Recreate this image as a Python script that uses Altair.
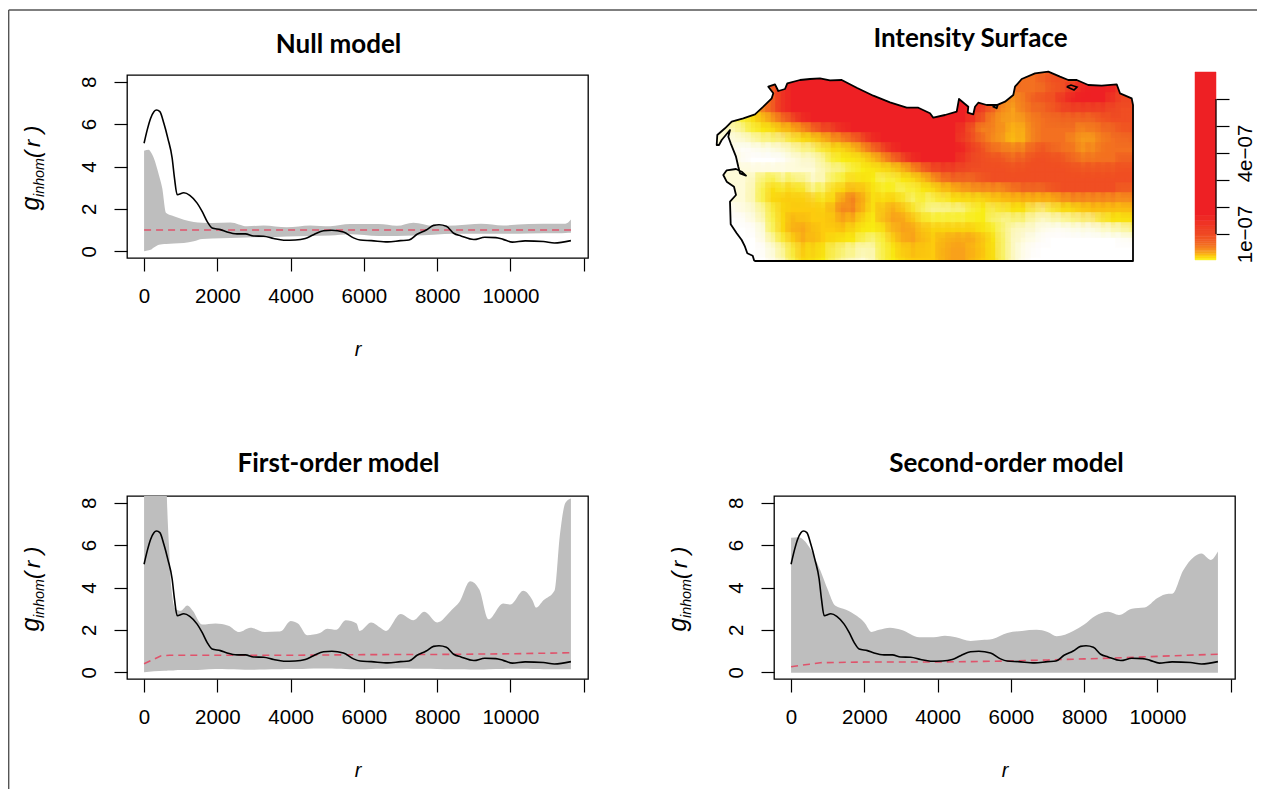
import altair as alt

FONT = "Liberation Sans"
GREY = "#BEBEBE"
PINK = "#DF536B"

# pair correlation (same observed curve in all three panels)
obs_r = [0,86,177,268,340,431,540,649,767,830,903,1085,1248,1448,1584,1720,1857,2084,2265,2538,2765,2992,3264,3536,3809,4127,4399,4626,4898,5125,5443,5716,5897,6200,6650,7000,7230,7450,7700,7900,8050,8250,8450,8650,9000,9300,9600,9800,10050,10400,10900,11200,11650]
obs_g = [5.10,5.73,6.27,6.59,6.67,6.59,6.04,5.33,4.39,3.45,2.67,2.76,2.64,2.27,1.88,1.41,1.10,1.02,.91,.82,.82,.72,.71,.60,.52,.53,.60,.78,.97,.99,.91,.63,.53,.50,.44,.50,.53,.80,1.0,1.22,1.25,1.18,.85,.72,.55,.66,.64,.56,.43,.49,.46,.39,.50]

null_r = [0,131,177,268,404,495,604,812,1085,1357,1584,1857,2356,2810,3264,3900,4535,5080,5625,6400,6900,7350,7900,8500,9200,9800,10500,11300,11500,11650]
null_hi = [4.74,4.79,4.7,4.39,3.6,2.98,1.8,1.65,1.49,1.38,1.35,1.33,1.36,1.18,1.22,1.13,1.22,1.18,1.28,1.28,1.2,1.35,1.2,1.22,1.3,1.22,1.28,1.3,1.3,1.5]
null_lo = [0,.05,.07,.18,.31,.33,.34,.37,.39,.47,.58,.6,.63,.65,.66,.7,.72,.74,.8,.72,.72,.74,.78,.82,.82,.82,.84,.85,.86,.87]
null_th_r = [0,11650]
null_th_g = [1,1]

first_r = [0,550,620,680,744,850,1000,1180,1330,1580,1950,2300,2600,2900,3300,3650,3750,4000,4200,4450,4800,5000,5250,5500,5800,5880,6200,6450,6600,7000,7350,7650,8000,8400,8600,8900,9150,9400,9800,10000,10350,10600,10700,10900,11200,11350,11500,11650]
first_hi = [14,14,8.4,6,4.0,3.0,2.9,3.15,2.9,2.25,2.3,2.2,1.9,2.1,1.9,1.92,1.95,2.42,2.3,1.75,1.85,2.05,2.0,2.45,2.3,1.95,2.35,2.1,1.95,2.75,2.45,2.85,2.35,2.95,3.3,4.3,3.9,2.5,3.25,3.2,3.85,3.4,3.05,3.4,3.85,6.5,8,8.2]
first_lo = [0,.07,.07,.08,.08,.09,.1,.11,.11,.12,.15,.14,.13,.12,.13,.14,.14,.15,.15,.16,.17,.17,.16,.15,.14,.14,.15,.16,.16,.17,.16,.16,.15,.14,.14,.13,.13,.14,.15,.16,.16,.15,.15,.14,.14,.14,.14,.14]
first_th_r = [0,250,450,700,2000,4000,6000,8000,10000,11650]
first_th_g = [.4,.6,.77,.8,.8,.8,.83,.84,.87,.92]

second_r = [0,200,500,800,1000,1200,1500,1800,2000,2200,2400,2700,3000,3500,3900,4200,4500,4900,5200,5500,5900,6300,6700,7000,7250,7700,8000,8300,8650,8950,9300,9650,10000,10300,10400,10700,11000,11200,11450,11650]
second_hi = [6.35,6.37,5.9,4.8,3.9,3.15,2.95,2.65,2.35,1.9,2.0,2.1,2.0,1.65,1.65,1.72,1.65,1.48,1.52,1.57,1.85,1.95,2.0,1.9,1.7,1.95,2.25,2.65,2.85,2.7,3.0,3.05,3.5,3.7,3.7,4.8,5.45,5.6,5.3,5.7]
second_lo = [-0.03]*40
second_th_r = [0,500,800,2000,4000,6000,7000,8000,9000,10000,11650]
second_th_g = [.26,.38,.45,.48,.48,.53,.58,.63,.68,.75,.85]

X_DOM = [-466, 12116]
Y_DOM = [-0.32, 8.32]
PW, PH = 461, 183


def series(rs, gs):
    return alt.Data(values=[{"r": a, "g": b} for a, b in zip(rs, gs)])


def band(rs, hi, lo):
    return alt.Data(values=[{"r": a, "hi": b, "lo": c} for a, b, c in zip(rs, hi, lo)])


x_axis = alt.Axis(values=[0,2000,4000,6000,8000,10000,12000], grid=False, domain=False,
                  labelExpr="datum.value==12000 ? '' : datum.value", labelFontSize=20.5,
                  tickSize=13, tickWidth=1.2, tickColor="black", labelColor="black",
                  labelPadding=15, labelOverlap=False, labelFlush=False,
                  title="r", titleFontStyle="italic", titleFontWeight="normal",
                  titleFontSize=20, titlePadding=33, titleColor="black")
y_axis = alt.Axis(values=[0,2,4,6,8], grid=False, domain=False, labelFontSize=20.5, labelAngle=270,
                  labelAlign="center", labelBaseline="bottom", tickSize=13, tickWidth=1.2,
                  tickColor="black", labelColor="black", labelPadding=15, labelOverlap=False,
                  title=None)
x_enc = alt.X("r:Q", scale=alt.Scale(domain=X_DOM, nice=False, zero=False), axis=x_axis)
y_scale = alt.Scale(domain=Y_DOM, nice=False, zero=False)
y_enc = alt.Y("g:Q", scale=y_scale, axis=y_axis)

# y title pieces: text, start along the axis, size, distance from the frame
g_parts = [("g", 135.5, 25, -88), ("inhom", 122, 14.3, -82.7), ("(", 83, 22, -87), ("r", 72, 22, -87), (")", 58, 22, -87)]


def panel(title, tdx, toff, rs, hi, lo, th_r, th_g):
    area = alt.Chart(band(rs, hi, lo)).mark_area(color=GREY, clip=True, interpolate="monotone").encode(
        x=x_enc, y=alt.Y("lo:Q", scale=y_scale, axis=y_axis), y2="hi:Q")
    th = alt.Chart(series(th_r, th_g)).mark_line(color=PINK, strokeWidth=1.6, strokeDash=[7, 5]).encode(x=x_enc, y=y_enc)
    ob = alt.Chart(series(obs_r, obs_g)).mark_line(color="black", strokeWidth=1.6, interpolate="monotone").encode(x=x_enc, y=y_enc)
    layers = [area, th, ob]
    for txt, ypos, size, xpos in g_parts:
        layers.append(alt.Chart(alt.Data(values=[{}])).mark_text(
            text=txt, angle=270, align="left", baseline="alphabetic", fontStyle="italic",
            fontSize=size, color="black").encode(x=alt.value(xpos), y=alt.value(ypos)))
    return alt.layer(*layers).properties(
        width=PW, height=PH,
        view=alt.ViewConfig(stroke="black", strokeWidth=1.3),
        title=alt.TitleParams(title, anchor="middle", dx=tdx, offset=toff, font="Lato", fontWeight="bold",
                              fontSize=26, color="black"))


A = panel("Null model", -19, 17.5, null_r, null_hi, null_lo, null_th_r, null_th_g)
B = panel("First-order model", -19, 19.5, first_r, first_hi, first_lo, first_th_r, first_th_g)
C = panel("Second-order model", 2, 19.5, second_r, second_hi, second_lo, second_th_r, second_th_g)

# intensity surface: level codes read row by row, north to south
surface_rows = [
    "8"*30+"666677"+"777888",
    "666666"+"7"+"8"*22+"6666"+"7777"+"888"+"77",
    "55555"+"6"+"7"+"8"*21+"7"+"66666"+"77"+"88888"+"7",
    "3333"+"5"+"6"+"7"+"8"*19+"77"+"6"+"55"+"6"+"777"+"88888"+"77",
    "333"+"3"+"5"+"6"+"7"+"8"*20+"7"+"6"+"55"+"666"+"7"*8,
    "11"+"2"+"33"+"4"+"5"+"6"+"7"+"8"*17+"7"+"6"+"55"+"5"+"5"+"6"*7+"777",
    "11"+"22"+"333"+"44"+"5"+"6"+"77"+"8"*12+"7"+"6"+"5"+"6"+"5"+"45"+"6666"+"656"+"66"+"7",
    "11"+"0"+"11"+"222"+"333"+"4"+"55"+"6"+"7"+"8"*9+"77"+"655"+"4"+"5"+"666"+"65556"+"66",
    "11"+"00000"+"11"+"22"+"333"+"4"+"5"+"6"+"7"+"8"*8+"77"+"6666"+"77"+"66"+"656"+"666",
    "111"+"00000"+"111"+"2"+"3333"+"4"+"5"+"6"+"7"+"88888"+"77"+"777"+"6"+"777"+"77"+"66666"+"7",
    "1"*11+"222"+"33333"+"4"+"5"+"6"+"7"*20,
    "1111"+"2"+"33"+"2"+"3"+"2"+"1"+"2"+"33"+"4"+"33"+"2"+"333"+"4"+"5"+"6666"+"7"*15,
    "1111"+"2"+"3"+"4"+"3"+"4"+"3"+"2"+"3"+"44"+"5"+"4"+"333"+"2"+"333"+"44"+"55555"+"6666"+"7777777"+"6",
    "1111"+"2"+"3"+"44444"+"3"+"4"+"66"+"4"+"3"+"44"+"3"+"2"+"3"+"2"+"33333"+"444"+"4"+"444"+"5555555",
    "000"+"11"+"2"+"3"+"44444"+"5"+"6"+"5"+"4"+"3"+"55"+"4"+"3"+"22222"+"33"+"2"+"333"+"22"+"333"+"44444",
    "0000"+"1"+"2"+"3"+"4"+"5"+"4444"+"5"+"4"+"33"+"555"+"4"+"3333333"+"2222"+"1111"+"222"+"333",
    "00000"+"1"+"3"+"4"+"55"+"4444"+"3333"+"555"+"444444"+"33"+"2"+"111"+"00000000"+"1",
    "00000"+"1"+"2"+"3"+"4"+"5"+"44"+"333"+"22"+"3"+"4"+"55"+"44"+"5555"+"4"+"3"+"2"+"11"+"0"*10,
    "000000"+"1"+"2"+"3"+"4"+"33"+"22"+"11"+"2"+"33"+"4444"+"555"+"44"+"3"+"2"+"1"+"0"*11,
]
level_colors = ["#FFFFFF", "#FEFBD8", "#FCF6A0", "#F9ED14", "#FDCB0E", "#F9A11B", "#F37021", "#F04E23", "#EE2024"]

coast_e = [38.3,36.7,31.3,29,25.7,20.7,14.7,14,20,18,10.7,7.3,10.7,20,25.7,30,24,22.3,20,14.7,12.3,14,5.7,3,.7,1.3,9,15.7,27.3,39,47.3,55.7,57.3,52.3,59,62.3,69,71.3,84,94,104,114,125.7,140.7,157.3,174,190.7,202.3,214,217.3,229,240.7,243,252.3,251.7,257.3,259,262.3,270.7,281.7,280.7,277.3,289,297.3,299,305.7,319,332.3,344,352.3,360.7,372.3,385.7,400.7,404,415.7,417]
coast_n = [0,5.3,7.7,14.3,21,27.7,36.7,59.3,66,74.3,79.3,86,90.7,92,89.3,85.3,87.7,94.3,104.3,117.7,124.3,131,121,116,116,126,132.7,139.3,142.7,146.7,154.3,162.7,167.7,174.3,176.7,170,172,177.7,181,182,182.7,180.7,181,173.3,165.3,158.7,153.3,153.3,147.7,143.3,146,149.3,162,154.3,148.3,146.7,154.3,158.3,156,156,152.7,154.3,159.3,166,174.3,182,187.7,189.3,184.3,181,181,176,175.3,176.7,167.7,162.7,156]
islet_e = [350.7,358,361,355,350.7]
islet_n = [174.3,171,174,176,174.3]


def cell_table(grow, shift):
    rows = []
    for row, s in enumerate(surface_rows):
        for col, ch in enumerate(s):
            rows.append({"e": max(10*col-1-grow+shift, 0), "e2": min(10*col+9+grow+shift, 417),
                         "n": min(189-10*row+grow-shift, 189), "n2": max(179-10*row-grow-shift, 0),
                         "c": level_colors[int(ch)]})
    return rows


mx = alt.X("e:Q", scale=alt.Scale(domain=[0, 417], nice=False, zero=False), axis=None)
my = alt.Y("n:Q", scale=alt.Scale(domain=[3, 186], nice=False, zero=False), axis=None)


def heat_layer(grow, shift, opacity):
    return alt.Chart(alt.Data(values=cell_table(grow, shift))).mark_rect(strokeWidth=0.5, opacity=opacity).encode(
        x=mx, x2="e2:Q", y=my, y2="n2:Q", color=alt.Color("c:N", scale=None), stroke=alt.Stroke("c:N", scale=None))


mask_pts = [{"i": i, "e": e, "n": n} for i, (e, n) in enumerate(zip(coast_e, coast_n))]
k = len(mask_pts)
mask_pts += [{"i": k, "e": 425, "n": 156}, {"i": k+1, "e": 425, "n": 192}, {"i": k+2, "e": -3, "n": 192}, {"i": k+3, "e": -3, "n": 0}, {"i": k+4, "e": 38.3, "n": 0}]
mask = alt.Chart(alt.Data(values=mask_pts)).mark_line(fill="white", stroke="white", strokeWidth=0).encode(
    x=mx, y=my, order="i:Q")

out_pts = [{"i": i, "e": e, "n": n} for i, (e, n) in enumerate(zip(coast_e, coast_n))]
out_pts += [{"i": k, "e": 417, "n": 0}, {"i": k+1, "e": 38.3, "n": 0}]
outline = alt.Chart(alt.Data(values=out_pts)).mark_line(color="black", strokeWidth=1.8, strokeJoin="round").encode(
    x=mx, y=my, order="i:Q")
islet = alt.Chart(alt.Data(values=[{"i": i, "e": e, "n": n} for i, (e, n) in enumerate(zip(islet_e, islet_n))])).mark_line(
    color="black", strokeWidth=1.6).encode(x=mx, y=my, order="i:Q")

M = alt.layer(heat_layer(0, 0, 1), heat_layer(5, -1.5, 0.5), heat_layer(7.5, -2, 0.3), mask, outline, islet).properties(
    width=417, height=183,
    title=alt.TitleParams("Intensity Surface", anchor="middle", dx=46, offset=17, font="Lato", fontWeight="bold",
                          fontSize=26, color="black"))

# colour bar
bar_edges = [.04,.1,.16,.22,.28,.34,.4,.48,.56,.64,.72,.8,.9,1,1.15,1.3,1.5,1.7,7]
bar_colors = ["#FBEE10","#FDDC0C","#FDCB0E","#FBB813","#F9A718","#F79A1C","#F68C1F","#F57E20","#F37021","#F26722","#F15D23","#F05523","#F04E23","#EF4624","#EF3E24","#EF3324","#EE2924","#EE2024"]
bars = [{"a": bar_edges[i], "b": bar_edges[i+1], "c": bar_colors[i], "k": 0} for i in range(len(bar_colors))]
bar_scale = alt.Scale(domain=[.11, 6.89], nice=False, zero=False)
bar_y = alt.Y("a:Q", scale=bar_scale,
              axis=alt.Axis(orient="right", values=[1,2,3,4,5,6], grid=False, domain=False,
                            labelExpr="datum.value==1 ? '1e\u221207' : datum.value==4 ? '4e\u221207' : ''",
                            labelFontSize=20.5, labelAngle=270, labelAlign="center", labelBaseline="top",
                            tickSize=13, tickWidth=1.2, tickColor="black", labelColor="black",
                            labelPadding=6, labelOverlap=False, title=None))
bar_rects = alt.Chart(alt.Data(values=bars)).mark_rect(strokeWidth=0.5).encode(
    x=alt.X("k:O", axis=None, scale=alt.Scale(paddingInner=0, paddingOuter=0)),
    y=bar_y, y2="b:Q",
    color=alt.Color("c:N", scale=None), stroke=alt.Stroke("c:N", scale=None))
bar_axis_line = alt.Chart(alt.Data(values=[{"a": 1, "b": 6}])).mark_rule(color="black", strokeWidth=1.2).encode(
    x=alt.value(21), y=bar_y, y2="b:Q")

# outer frame of the figure
frame_h = alt.Chart(alt.Data(values=[{}])).mark_rule(color="#555555", strokeWidth=1.4).encode(
    x=alt.value(-1186.3), x2=alt.value(70), y=alt.value(-65))
frame_v = alt.Chart(alt.Data(values=[{}])).mark_rule(color="#555555", strokeWidth=1.4).encode(
    x=alt.value(-1186.3), y=alt.value(-65), y2=alt.value(725))

Bar = alt.layer(bar_rects, bar_axis_line, frame_h, frame_v).properties(width=21, height=183)

top = alt.hconcat(A, alt.hconcat(M, Bar, spacing=62, bounds="flush"), spacing=128, bounds="flush")
bottom = alt.hconcat(B, C, spacing=186, bounds="flush")

chart = alt.vconcat(top, bottom, spacing=421, bounds="flush").properties(
    autosize=alt.AutoSizeParams(type="none"),
    padding={"left": 119, "top": 67, "right": 1130, "bottom": 714}
).configure(font=FONT).configure_view(stroke=None)

chart.save("out.html", embed_options={"renderer": "svg", "actions": False})
